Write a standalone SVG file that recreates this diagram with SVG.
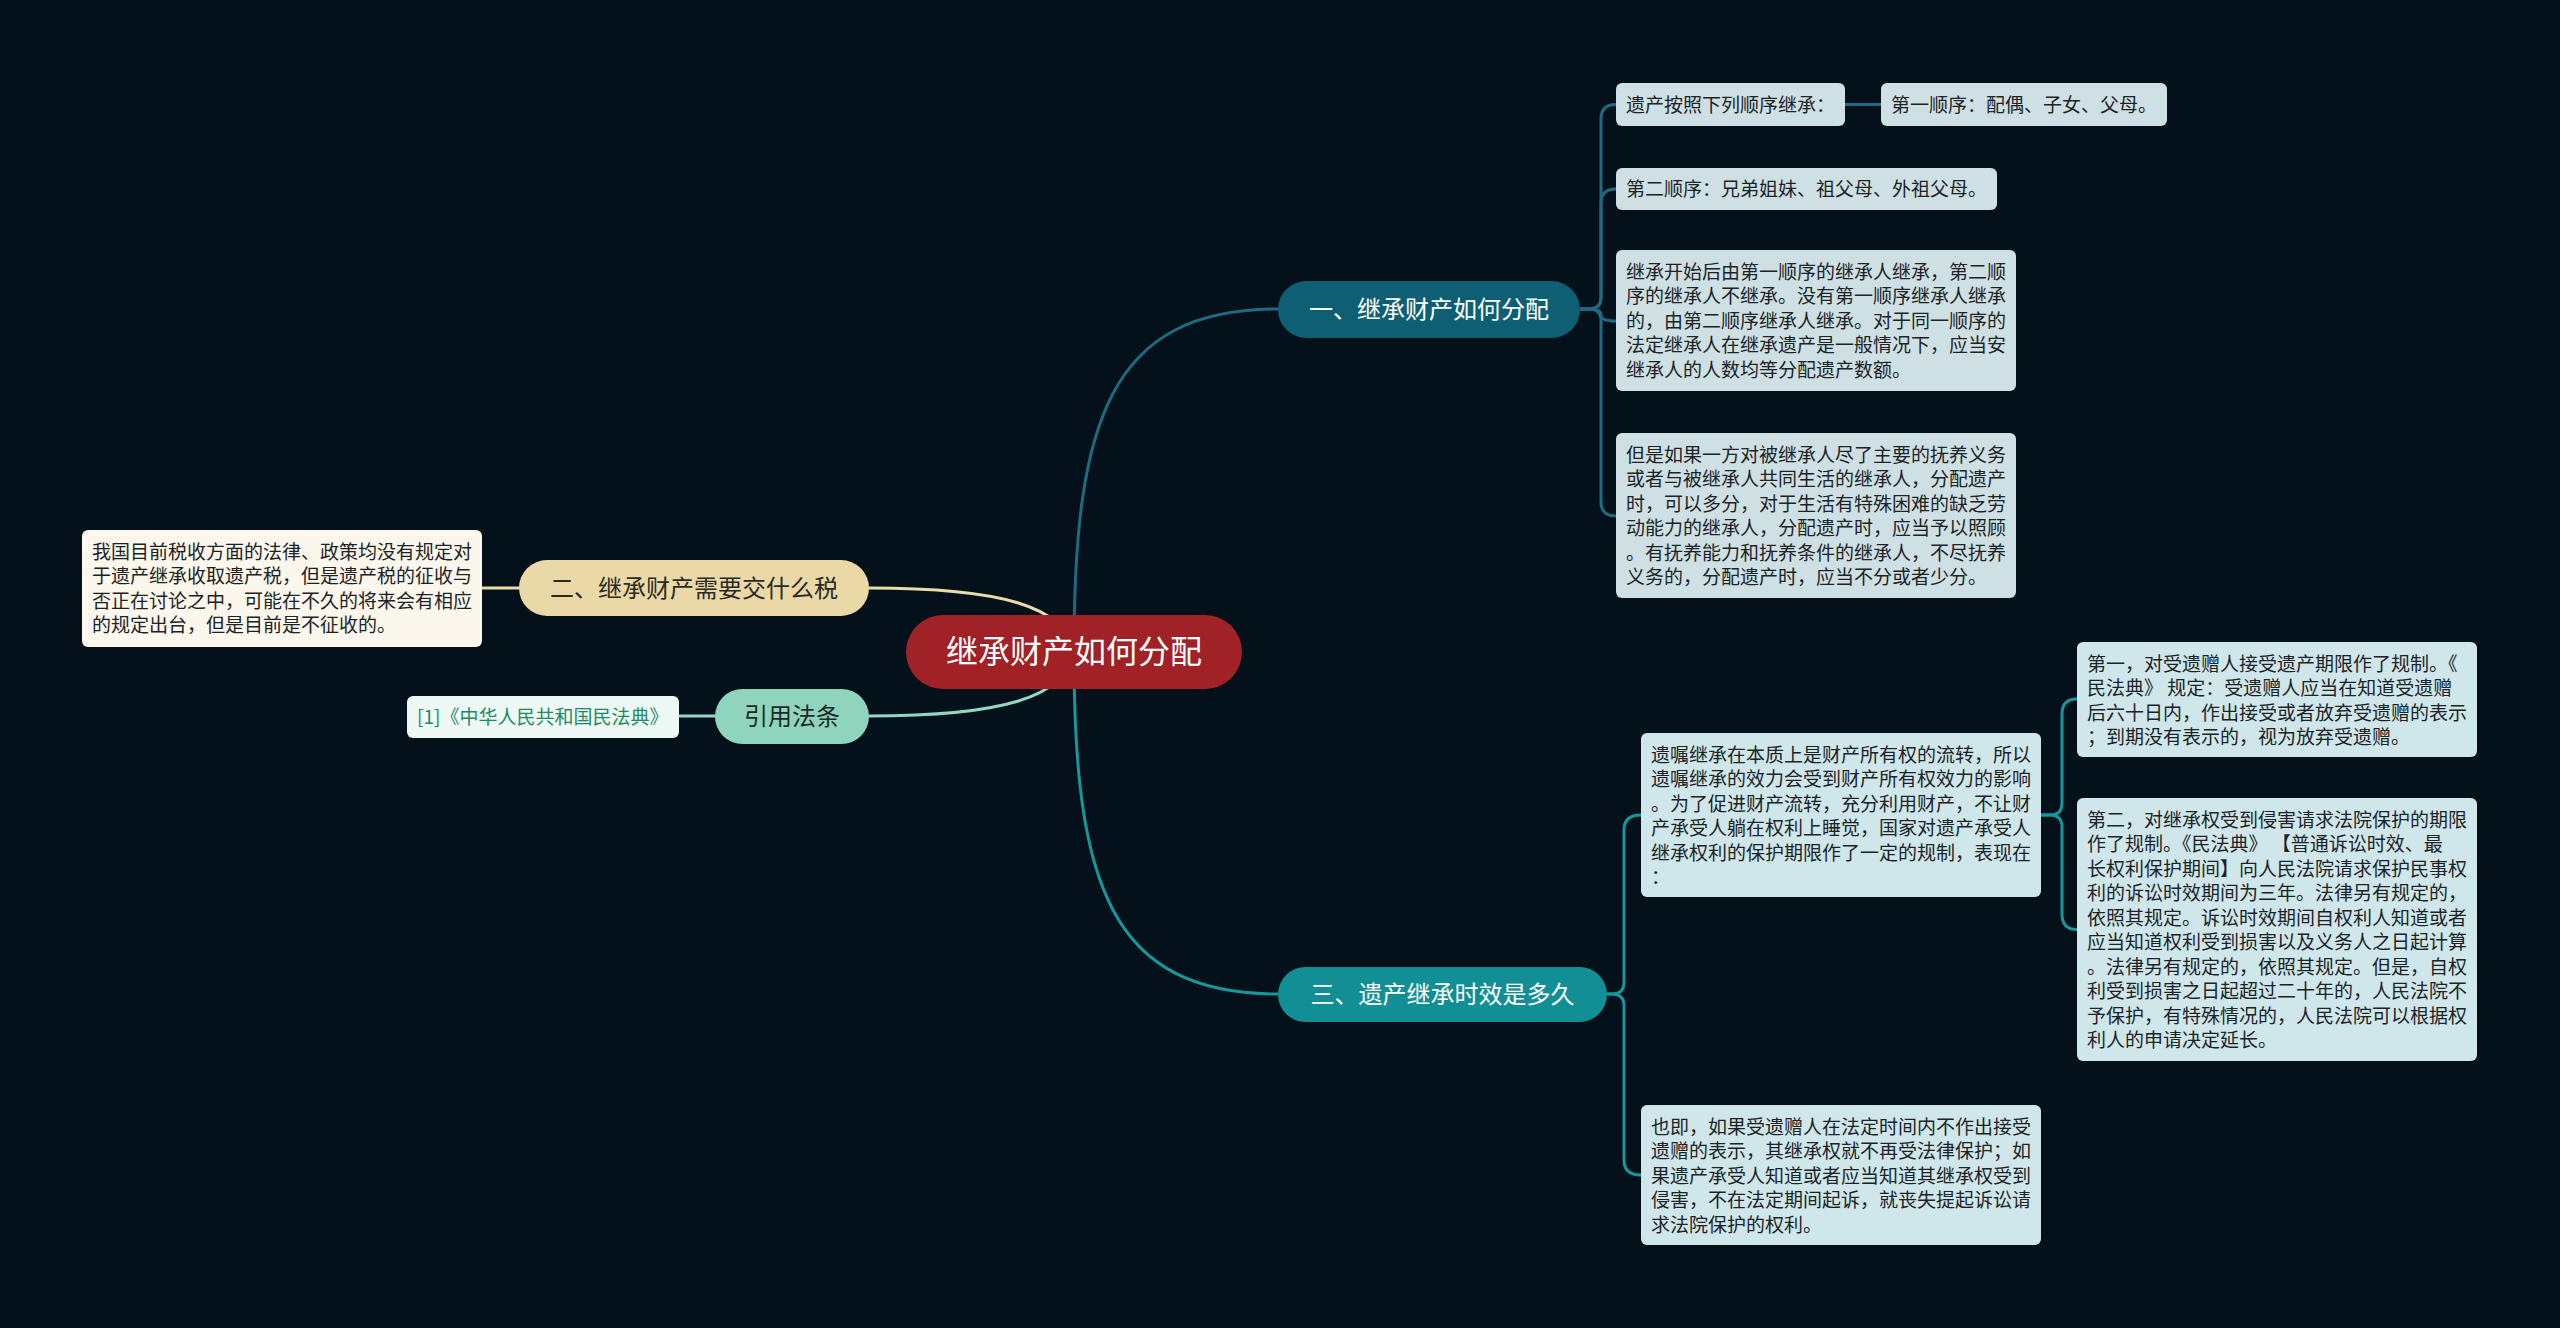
<svg xmlns="http://www.w3.org/2000/svg" width="2560" height="1328" viewBox="0 0 2560 1328">
<style>
text{font-family:"Noto Sans CJK SC","Noto Sans",sans-serif;}
.leaf text,.leaf2 text{font-size:19px;fill:#1b2327;}
.l1 rect{fill:#cfe0e4;}
.l3 rect{fill:#cfe7ea;}
.c{fill:none;stroke-width:3;stroke-linecap:round;}
.b1{stroke:#1c6b80;}
.b3{stroke:#15979b;}
.b2{stroke:#e9dbaa;}
.bq{stroke:#92d7c1;}
.main{font-size:24px;text-anchor:middle;}
</style>
<rect width="2560" height="1328" fill="#04111a"/>
<g id="connectors">
<path class="c b2" d="M869 588 C1000 588 1066 606 1074 652"/>
<path class="c bq" d="M869 716 C1000 716 1066 698 1074 652"/>
<path class="c b1" d="M1074 652 C1074 420 1110 309 1278 309"/>
<path class="c b3" d="M1074 652 C1074 884 1110 994 1278 994"/>
<path class="c b2" d="M519 588 H482"/>
<path class="c bq" d="M715 716 H679"/>
<path class="c b1" d="M1580 309 H1589 Q1601 309 1601 297 V119 Q1601 104.5 1616 104.5"/>
<path class="c b1" d="M1580 309 H1589 Q1601 309 1601 297 V203 Q1601 189 1616 189"/>
<path class="c b1" d="M1580 309 H1591 Q1601 309 1601 315 Q1601 321 1616 321"/>
<path class="c b1" d="M1580 309 H1589 Q1601 309 1601 321 V502 Q1601 516 1616 516"/>
<path class="c b1" d="M1845 104.5 H1881"/>
<path class="c b3" d="M1607 994 H1612 Q1624 994 1624 982 V830 Q1624 815 1641 815"/>
<path class="c b3" d="M1607 994 H1612 Q1624 994 1624 1006 V1160 Q1624 1175 1641 1175"/>
<path class="c b3" d="M2041 815 H2050 Q2062 815 2062 803 V714 Q2062 699 2077 699"/>
<path class="c b3" d="M2041 815 H2050 Q2062 815 2062 827 V914 Q2062 929.5 2077 929.5"/>
</g>
<g id="root">
<rect x="906" y="615" width="336" height="74" rx="37" fill="#a02227"/>
<text x="1074" y="663" font-size="32" fill="#ffffff" text-anchor="middle">继承财产如何分配</text>
</g>
<g id="n1">
<rect x="1278" y="281" width="302" height="57" rx="28.5" fill="#0e5f73"/>
<text class="main" x="1429" y="318" fill="#ffffff">一、继承财产如何分配</text>
</g>
<g id="n3">
<rect x="1278" y="967" width="329" height="55" rx="27.5" fill="#118f94"/>
<text class="main" x="1442.5" y="1003" fill="#ffffff">三、遗产继承时效是多久</text>
</g>
<g id="n2">
<rect x="519" y="560" width="350" height="56" rx="28" fill="#ead9a6"/>
<text class="main" x="694" y="597" fill="#2a2a22">二、继承财产需要交什么税</text>
</g>
<g id="nq">
<rect x="715" y="689" width="154" height="55" rx="27.5" fill="#8fd4bd"/>
<text class="main" x="792" y="725" fill="#1d2a26">引用法条</text>
</g>
<g id="leaf-tax" class="leaf">
<rect x="82" y="530" width="400" height="117" rx="6" fill="#fcf7ec"/>
<text x="92" y="558.5">我国目前税收方面的法律、政策均没有规定对</text>
<text x="92" y="583">于遗产继承收取遗产税，但是遗产税的征收与</text>
<text x="92" y="607.5">否正在讨论之中，可能在不久的将来会有相应</text>
<text x="92" y="632">的规定出台，但是目前是不征收的。</text>
</g>
<g id="leaf-law">
<rect x="407" y="696" width="272" height="42" rx="6" fill="#eef8f4"/>
<text x="417" y="724" font-size="19" fill="#1f8a63">[1]《中华人民共和国民法典》</text>
</g>
<g id="leaf-order" class="leaf l1">
<rect x="1616" y="83" width="229" height="43" rx="6"/>
<text x="1626" y="111.5">遗产按照下列顺序继承：</text>
</g>
<g id="leaf-first" class="leaf l1">
<rect x="1881" y="83" width="286" height="43" rx="6"/>
<text x="1891" y="111.5">第一顺序：配偶、子女、父母。</text>
</g>
<g id="leaf-second" class="leaf l1">
<rect x="1616" y="168" width="381" height="42" rx="6"/>
<text x="1626" y="196">第二顺序：兄弟姐妹、祖父母、外祖父母。</text>
</g>
<g id="leaf-p1" class="leaf l1">
<rect x="1616" y="250" width="400" height="141" rx="6"/>
<text x="1626" y="278.5">继承开始后由第一顺序的继承人继承，第二顺</text>
<text x="1626" y="303">序的继承人不继承。没有第一顺序继承人继承</text>
<text x="1626" y="327.5">的，由第二顺序继承人继承。对于同一顺序的</text>
<text x="1626" y="352">法定继承人在继承遗产是一般情况下，应当安</text>
<text x="1626" y="376.5">继承人的人数均等分配遗产数额。</text>
</g>
<g id="leaf-p2" class="leaf l1">
<rect x="1616" y="433" width="400" height="165" rx="6"/>
<text x="1626" y="461.5">但是如果一方对被继承人尽了主要的抚养义务</text>
<text x="1626" y="486">或者与被继承人共同生活的继承人，分配遗产</text>
<text x="1626" y="510.5">时，可以多分，对于生活有特殊困难的缺乏劳</text>
<text x="1626" y="535">动能力的继承人，分配遗产时，应当予以照顾</text>
<text x="1626" y="559.5">。有抚养能力和抚养条件的继承人，不尽抚养</text>
<text x="1626" y="584">义务的，分配遗产时，应当不分或者少分。</text>
</g>
<g id="leaf-will" class="leaf l3">
<rect x="1641" y="733" width="400" height="164" rx="6"/>
<text x="1651" y="761.5">遗嘱继承在本质上是财产所有权的流转，所以</text>
<text x="1651" y="786">遗嘱继承的效力会受到财产所有权效力的影响</text>
<text x="1651" y="810.5">。为了促进财产流转，充分利用财产，不让财</text>
<text x="1651" y="835">产承受人躺在权利上睡觉，国家对遗产承受人</text>
<text x="1651" y="859.5">继承权利的保护期限作了一定的规制，表现在</text>
<text x="1651" y="884">：</text>
</g>
<g id="leaf-also" class="leaf l3">
<rect x="1641" y="1105" width="400" height="140" rx="6"/>
<text x="1651" y="1133.5">也即，如果受遗赠人在法定时间内不作出接受</text>
<text x="1651" y="1158">遗赠的表示，其继承权就不再受法律保护；如</text>
<text x="1651" y="1182.5">果遗产承受人知道或者应当知道其继承权受到</text>
<text x="1651" y="1207">侵害，不在法定期间起诉，就丧失提起诉讼请</text>
<text x="1651" y="1231.5">求法院保护的权利。</text>
</g>
<g id="leaf-one" class="leaf l3">
<rect x="2077" y="642" width="400" height="115" rx="6"/>
<text x="2087" y="670.5">第一，对受遗赠人接受遗产期限作了规制。《</text>
<text x="2087" y="695">民法典》 规定：受遗赠人应当在知道受遗赠</text>
<text x="2087" y="719.5">后六十日内，作出接受或者放弃受遗赠的表示</text>
<text x="2087" y="744">；到期没有表示的，视为放弃受遗赠。</text>
</g>
<g id="leaf-two" class="leaf l3">
<rect x="2077" y="798" width="400" height="263" rx="6"/>
<text x="2087" y="826.5">第二，对继承权受到侵害请求法院保护的期限</text>
<text x="2087" y="851">作了规制。《民法典》 【普通诉讼时效、最</text>
<text x="2087" y="875.5">长权利保护期间】向人民法院请求保护民事权</text>
<text x="2087" y="900">利的诉讼时效期间为三年。法律另有规定的，</text>
<text x="2087" y="924.5">依照其规定。诉讼时效期间自权利人知道或者</text>
<text x="2087" y="949">应当知道权利受到损害以及义务人之日起计算</text>
<text x="2087" y="973.5">。法律另有规定的，依照其规定。但是，自权</text>
<text x="2087" y="998">利受到损害之日起超过二十年的，人民法院不</text>
<text x="2087" y="1022.5">予保护，有特殊情况的，人民法院可以根据权</text>
<text x="2087" y="1047">利人的申请决定延长。</text>
</g>
</svg>
